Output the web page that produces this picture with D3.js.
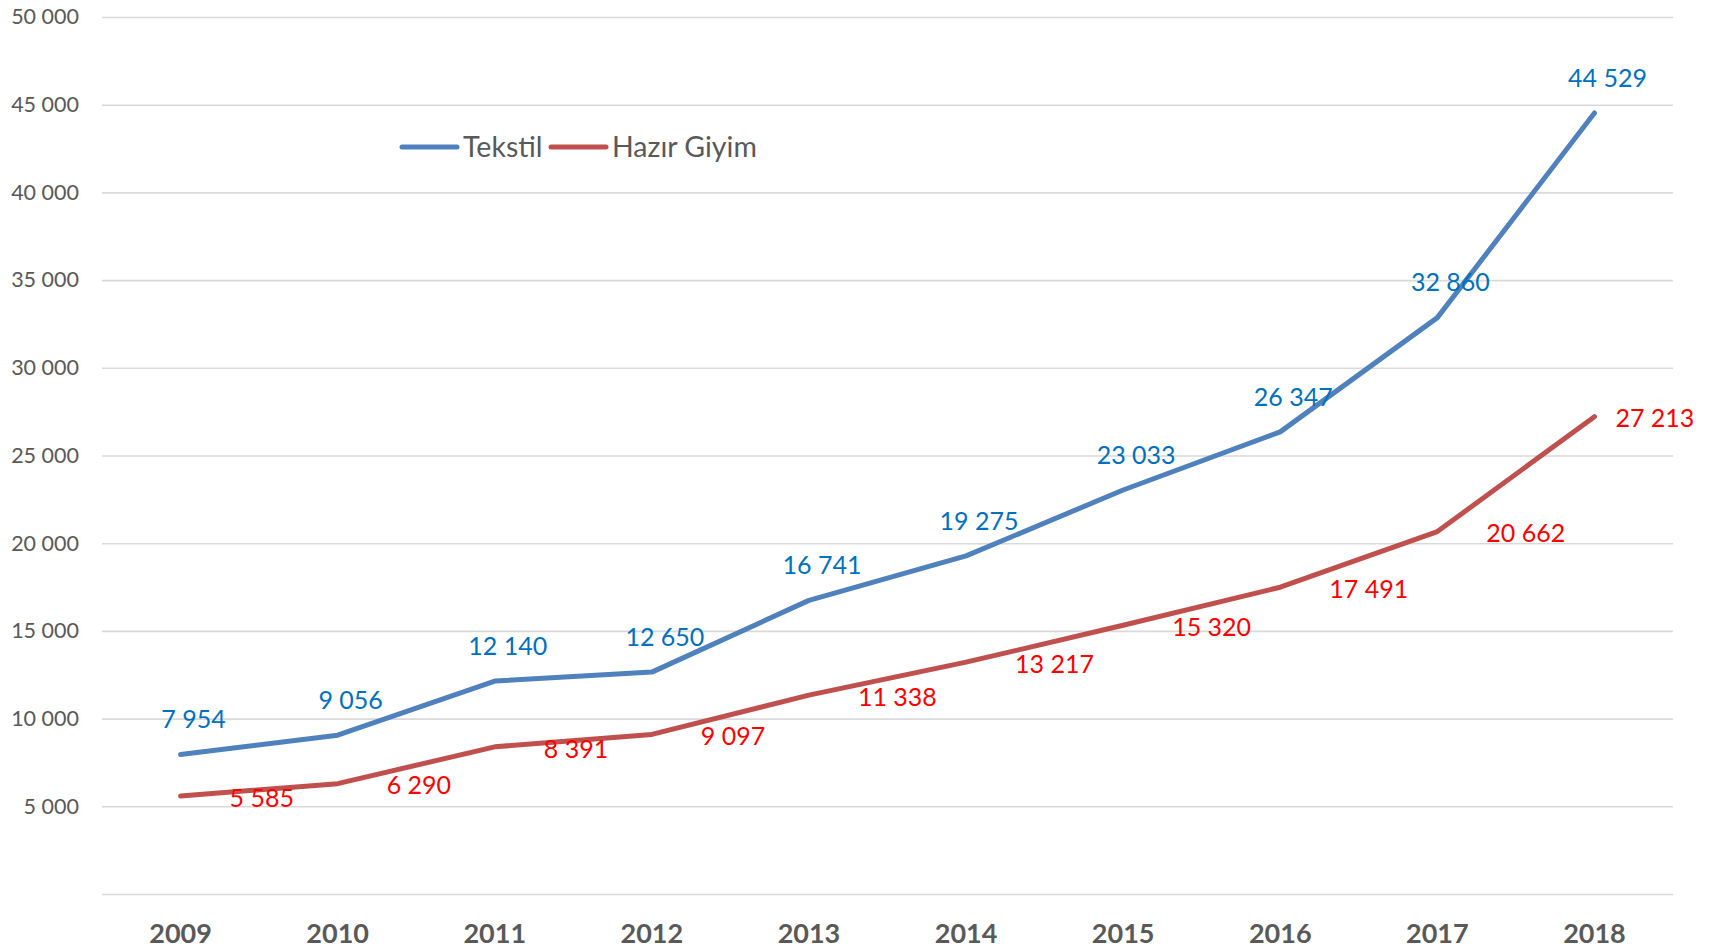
<!DOCTYPE html>
<html><head><meta charset="utf-8">
<script src="https://cdn.jsdelivr.net/npm/d3@7"></script>
<style>html,body{margin:0;padding:0;background:#fff;}svg{display:block;}</style>
</head><body>
<svg id="chart" width="1713" height="950"></svg>
<script>
const years = ["2009","2010","2011","2012","2013","2014","2015","2016","2017","2018"];
const tekstil = [7954, 9056, 12140, 12650, 16741, 19275, 23033, 26347, 32860, 44529];
const hazirGiyim = [5585, 6290, 8391, 9097, 11338, 13217, 15320, 17491, 20662, 27213];
const yTicks = [0, 5000, 10000, 15000, 20000, 25000, 30000, 35000, 40000, 45000, 50000];
const seriesNames = ["Tekstil", "Hazır Giyim"];

const W = 1713, H = 950;
const m = {left: 102, right: 40, top: 17, bottom: 56};
const svg = d3.select("#chart");
const font = "Lato, 'Open Sans', sans-serif";
const fmt = v => d3.format(",")(v).replace(/,/g, " ");

const x = d3.scaleBand().domain(years).range([m.left, W - m.right]);
const y = d3.scaleLinear().domain([0, 50000]).range([H - m.bottom, m.top]);
const cx = d => x(d) + x.bandwidth() / 2;

// gridlines
const yAxis = d3.axisLeft(y).tickValues(yTicks).tickSize(-(W - m.right - m.left)).tickFormat(d => d === 0 ? "" : fmt(d));
const gy = svg.append("g").attr("transform", `translate(${m.left},0)`).call(yAxis);
gy.select(".domain").remove();
gy.selectAll(".tick line").attr("stroke", "#d9d9d9").attr("stroke-width", 1.6);
gy.selectAll(".tick text").attr("x", -23).attr("fill", "#595959")
  .style("font-family", font).style("font-size", "21.5px");

// x axis labels
const xAxis = d3.axisBottom(x).tickSize(0).tickPadding(0);
const gx = svg.append("g").attr("transform", `translate(0,${H - m.bottom})`).call(xAxis);
gx.select(".domain").remove();
gx.selectAll(".tick text").attr("y", 49).attr("dy", 0).attr("fill", "#595959")
  .style("font-family", font).style("font-size", "27px").style("font-weight", "bold");

const line = d3.line().x((d, i) => cx(years[i])).y(d => y(d));
const colors = ["#4f81bd", "#c0504d"];
const labelColors = ["#0070c0", "#ff0000"];
[tekstil, hazirGiyim].forEach((s, k) => {
  svg.append("path").datum(s).attr("d", line).attr("fill", "none")
    .attr("stroke", colors[k]).attr("stroke-width", 5)
    .attr("stroke-linejoin", "round").attr("stroke-linecap", "round");
});

// labels Tekstil: above
svg.append("g").selectAll("text").data(tekstil).join("text")
  .attr("x", (d, i) => cx(years[i]) + 13)
  .attr("y", d => y(d) - 35)
  .attr("dy", "0.35em")
  .attr("text-anchor", "middle")
  .attr("fill", labelColors[0])
  .style("font-family", font).style("font-size", "25px")
  .text(fmt);

// labels Hazir Giyim: right
svg.append("g").selectAll("text").data(hazirGiyim).join("text")
  .attr("x", (d, i) => cx(years[i]) + (i === hazirGiyim.length - 1 ? 21 : 49))
  .attr("y", d => y(d) + 2)
  .attr("dy", "0.35em")
  .attr("text-anchor", "start")
  .attr("fill", labelColors[1])
  .style("font-family", font).style("font-size", "25px")
  .text(fmt);

// legend
const lg = svg.append("g").attr("transform", "translate(402,147)");
const legendX = [0, 149];
seriesNames.forEach((n, k) => {
  const g = lg.append("g").attr("transform", `translate(${legendX[k]},0)`);
  g.append("line").attr("x1", 0).attr("x2", 55).attr("y1", 0).attr("y2", 0)
    .attr("stroke", colors[k]).attr("stroke-width", 5).attr("stroke-linecap", "round");
  g.append("text").attr("x", 61).attr("dy", "0.35em").attr("fill", "#595959")
    .style("font-family", font).style("font-size", "28.5px").text(n);
});
</script>
</body></html>
